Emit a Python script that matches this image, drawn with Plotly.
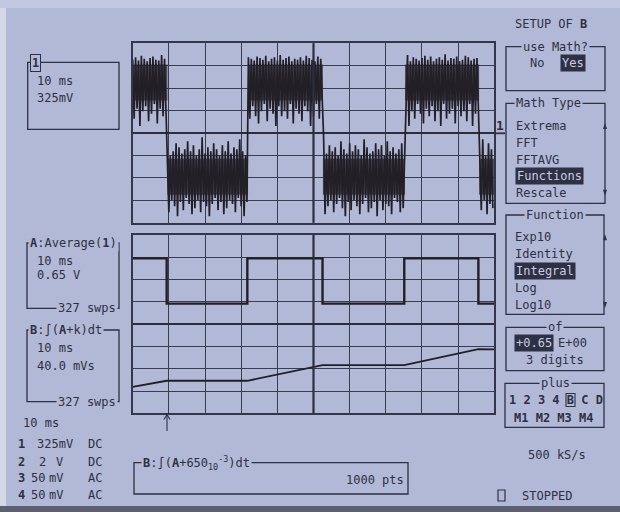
import plotly.graph_objects as go

W, H = 620, 512
BG = "#b1b9d7"
INK = "#2e3044"
TRACE = "#221f26"
LIGHT = "#c9cde2"
MONO = "DejaVu Sans Mono"

# ---------------- data (screen divisions; 10 ms/div horizontally) ----------------
# Channel 1: noisy square wave. Burst transitions (ms from left edge) and state.
ch1_edges_ms = [0, 9.6, 31.9, 52.6, 75.3, 95.8, 100]
ch1_states = ["H", "L", "H", "L", "H", "L"]
# base edges of the dense burst bands (divisions): top / bottom for high and low states
ch1_band_top = {"H": 3.2, "L": -1.0}
ch1_band_bot = {"H": 1.3, "L": -2.9}
ch1_spike_up = {"H": 0.035, "L": 0.09}
ch1_spike_dn = {"H": 0.11, "L": 0.09}
# spike excursions (0..9), upper and lower edge
ch1_up = [2, 5, 1, 7, 3, 0, 4, 6, 2, 1, 8, 3, 5, 0, 2, 6, 4, 1, 3, 7, 2, 5, 0, 3, 9,
          1, 4, 2, 6, 3, 0, 5, 2, 7, 1, 4, 3, 8, 2, 0, 5, 3, 1, 6, 4, 2, 7, 0, 3, 5,
          1, 8, 2, 4, 6, 0, 3, 2, 5, 1, 7, 4, 2, 0, 6, 3, 9, 1, 5, 2, 4, 0, 7, 3, 1,
          6, 2, 5, 3, 0, 8, 4, 1, 2, 6, 3, 5, 0, 7, 2, 4, 1, 3, 6, 2, 8, 0, 5, 3, 1,
          4, 7, 2, 6, 0, 3, 5, 2, 9, 1, 4, 3, 6, 0, 2, 7, 5, 1, 3, 4, 2, 8, 0, 6, 3]
ch1_dn = [6, 2, 9, 3, 1, 7, 4, 0, 8, 2, 5, 3, 7, 1, 4, 9, 2, 6, 0, 3, 8, 5, 1, 7, 2,
          4, 9, 3, 0, 6, 2, 8, 5, 1, 3, 7, 0, 4, 9, 2, 6, 1, 5, 8, 3, 0, 7, 2, 4, 9,
          1, 5, 3, 6, 0, 8, 2, 4, 7, 1, 3, 9, 5, 0, 6, 2, 8, 4, 1, 7, 3, 0, 5, 9, 2,
          6, 1, 4, 8, 3, 0, 7, 5, 2, 9, 1, 6, 3, 4, 8, 0, 2, 7, 5, 1, 9, 3, 6, 0, 4,
          8, 2, 5, 1, 7, 3, 9, 0, 6, 4, 2, 8, 1, 5, 3, 7, 0, 9, 4, 2, 6, 1, 8, 3, 5]

# Trace A: Average(1) – step levels (divisions) at transition times (ms)
a_t_ms = [0, 9.4, 31.7, 52.5, 75.1, 95.6, 100]
a_div = [2.95, 0.92, 2.95, 0.92, 2.95, 0.92, 0.92]

# Trace B: integral of (A + k) – breakpoints
b_t_ms = [0, 9.4, 31.7, 52.5, 75.1, 95.6, 100]
b_div = [-2.81, -2.54, -2.54, -1.84, -1.84, -1.12, -1.13]

# ---------------- build channel 1 zigzag ----------------
n = min(len(ch1_up), len(ch1_dn))
step = 100.0 / (2 * n)
ch1_t, ch1_v = [], []


def state_at(t):
    for i in range(len(ch1_states)):
        if ch1_edges_ms[i] <= t < ch1_edges_ms[i + 1]:
            return ch1_states[i]
    return ch1_states[-1]


for i in range(n):
    t_up = (2 * i) * step
    t_dn = (2 * i + 1) * step
    s1 = state_at(t_up)
    ch1_t.append(t_up)
    ch1_v.append(ch1_band_top[s1] + ch1_up[i] * ch1_spike_up[s1])
    s2 = state_at(t_dn)
    ch1_t.append(t_dn)
    ch1_v.append(ch1_band_bot[s2] - ch1_dn[i] * ch1_spike_dn[s2])


def px(x):
    return x / W


def py(y):
    return 1 - y / H


fig = go.Figure()
# dense cores of the bursts
for i, s in enumerate(ch1_states):
    t0, t1 = ch1_edges_ms[i], ch1_edges_ms[i + 1]
    fig.add_trace(go.Scatter(x=[t0, t1, t1, t0, t0],
                             y=[ch1_band_top[s] - 0.15, ch1_band_top[s] - 0.15,
                                ch1_band_bot[s] + 0.15, ch1_band_bot[s] + 0.15,
                                ch1_band_top[s] - 0.15],
                             mode="lines", fill="toself", fillcolor="rgba(34,31,38,0.7)",
                             line=dict(width=0), xaxis="x", yaxis="y", hoverinfo="skip"))
fig.add_trace(go.Scatter(x=ch1_t, y=ch1_v, mode="lines",
                         line=dict(color=TRACE, width=1.7), xaxis="x", yaxis="y",
                         hoverinfo="skip"))
fig.add_trace(go.Scatter(x=a_t_ms, y=a_div, mode="lines", line_shape="hv",
                         line=dict(color=TRACE, width=2.4), xaxis="x2", yaxis="y2",
                         hoverinfo="skip"))
fig.add_trace(go.Scatter(x=b_t_ms, y=b_div, mode="lines",
                         line=dict(color=TRACE, width=1.8), xaxis="x2", yaxis="y2",
                         hoverinfo="skip"))

GL, GR = 132.7, 494.3
ax_common = dict(range=[0, 100], dtick=10, tick0=0, showgrid=True, gridcolor="#3a3c52",
                 gridwidth=1.2, showline=True, mirror=True, linecolor="#34364a",
                 linewidth=1.6, showticklabels=False, ticks="", zeroline=False,
                 fixedrange=True)
ay_common = dict(range=[-4, 4], dtick=1, tick0=0, showgrid=True, gridcolor="#3a3c52",
                 gridwidth=1.2, showline=True, mirror=True, linecolor="#34364a",
                 linewidth=1.6, showticklabels=False, ticks="", zeroline=True,
                 zerolinecolor="#2c2e40", zerolinewidth=2.2, fixedrange=True)

fig.update_layout(
    width=W, height=H, margin=dict(l=0, r=0, t=0, b=0),
    paper_bgcolor=BG, plot_bgcolor="rgba(0,0,0,0)", showlegend=False,
    xaxis=dict(domain=[px(GL), px(GR)], anchor="y", **ax_common),
    yaxis=dict(domain=[py(222.7), py(43.3)], anchor="x", **ay_common),
    xaxis2=dict(domain=[px(GL), px(GR)], anchor="y2", **ax_common),
    yaxis2=dict(domain=[py(413.3), py(235)], anchor="x2", **ay_common),
)

shapes = []
# photo edges
shapes.append(dict(type="rect", xref="paper", yref="paper", x0=0, x1=px(6), y0=0, y1=1,
                   fillcolor="#d3d7e6", line_width=0, layer="below"))
shapes.append(dict(type="rect", xref="paper", yref="paper", x0=0, x1=1, y0=py(8), y1=1,
                   fillcolor="#c2c8e0", line_width=0, layer="below"))
shapes.append(dict(type="rect", xref="paper", yref="paper", x0=0, x1=1, y0=0, y1=py(506),
                   fillcolor="#5c5f6e", line_width=0))
# thick centre vertical lines
for yr in ["y", "y2"]:
    xr = "x" if yr == "y" else "x2"
    shapes.append(dict(type="line", xref=xr, yref=yr + " domain", x0=50, x1=50, y0=0, y1=1,
                       line=dict(color="#2c2e40", width=2.2)))
# ch1 ground marker line extending right
shapes.append(dict(type="line", xref="paper", yref="paper", x0=px(494), x1=px(505),
                   y0=py(133.3), y1=py(133.3), line=dict(color=INK, width=1.8)))


def box(x0, y0, x1, y1, w=1.3):
    shapes.append(dict(type="rect", xref="paper", yref="paper", x0=px(x0), x1=px(x1),
                       y0=py(y1), y1=py(y0), line=dict(color=INK, width=w)))


box(27.7, 62.3, 119, 129.3)
box(27, 243, 119, 308.3)
box(27, 330, 119, 401.7)
box(134, 462.7, 408, 494)
box(506, 46.7, 605, 90.7)
box(506, 103.3, 605, 203.3)
box(506, 215, 604, 314.3)
box(506, 327.3, 604, 370.7)
box(505, 383.3, 604, 427.3)
# boxed B in "plus"
box(566, 393.5, 575, 406.5, 1.1)
# STOPPED indicator square
box(498, 490, 505, 501, 1.2)

# arrow under the lower grid
shapes.append(dict(type="line", xref="paper", yref="paper", x0=px(167), x1=px(167),
                   y0=py(431), y1=py(414.5), line=dict(color=INK, width=1.1)))
shapes.append(dict(type="line", xref="paper", yref="paper", x0=px(164), x1=px(167),
                   y0=py(419.5), y1=py(414.5), line=dict(color=INK, width=1.1)))
shapes.append(dict(type="line", xref="paper", yref="paper", x0=px(170), x1=px(167),
                   y0=py(419.5), y1=py(414.5), line=dict(color=INK, width=1.1)))
# scroll arrows on the right of menu boxes
for (yt, yb) in [(126, 192.7), (237.3, 305)]:
    shapes.append(dict(type="path", xref="paper", yref="paper",
                       path=f"M {px(603)} {py(yt+3)} L {px(607)} {py(yt+3)} L {px(605)} {py(yt-3)} Z",
                       fillcolor=INK, line_width=0))
    shapes.append(dict(type="path", xref="paper", yref="paper",
                       path=f"M {px(603)} {py(yb-3)} L {px(607)} {py(yb-3)} L {px(605)} {py(yb+3)} Z",
                       fillcolor=INK, line_width=0))

fig.update_layout(shapes=shapes)

anns = []


def ann(x, y, text, anchor="left", size=12, bold=False, inv=False, bg=None, color=None,
        border=None):
    t = f"<b>{text}</b>" if bold else text
    d = dict(xref="paper", yref="paper", x=px(x), y=py(y), text=t, showarrow=False,
             xanchor=anchor, yanchor="middle",
             font=dict(family=MONO, size=size, color=color or (LIGHT if inv else INK)),
             borderpad=0)
    if inv:
        d["bgcolor"] = INK
        d["borderpad"] = 1
    elif bg:
        d["bgcolor"] = bg
        d["borderpad"] = 1
    if border:
        d["bordercolor"] = border
        d["borderwidth"] = 1
    anns.append(d)


# channel 1 label box
ann(30, 63, "1", bold=True, size=12, bg=BG, border=INK)
ann(36, 80.7, "10 ms")
ann(36, 98.3, "325mV")
# A box
ann(28, 243.3, "<b>A</b>:Average(<b>1</b>)", bg=BG)
ann(36, 260.7, "10 ms")
ann(36, 275, "0.65 V")
ann(118, 308.3, "327 swps", anchor="right", bg=BG)
# B box
ann(28, 330, "<b>B</b>:∫(<b>A</b>+k)dt", bg=BG)
ann(36, 348.3, "10 ms")
ann(36, 365.7, "40.0 mVs")
ann(118, 401.7, "327 swps", anchor="right", bg=BG)
# timebase / channels
ann(22, 422.7, "10 ms")
rows = [(444.3, "1", [(36, "325mV")], "DC"),
        (461.7, "2", [(38, "2"), (55, "V")], "DC"),
        (478, "3", [(30, "50"), (48, "mV")], "AC"),
        (495, "4", [(30, "50"), (48, "mV")], "AC")]
for (yy, num, parts, cpl) in rows:
    ann(17, yy, num, bold=True, size=12)
    for (xx, tx) in parts:
        ann(xx, yy, tx)
    ann(87, yy, cpl)
# bottom formula box
ann(141, 462.7, "<b>B</b>:∫(<b>A</b>+650<sub>10</sub><sup>-3</sup>)dt", bg=BG)
ann(405, 480, "1000 pts", anchor="right")
# right panel
ann(551, 24.3, "SETUP OF <b>B</b>", anchor="center")
ann(555, 46.7, "use Math?", anchor="center", bg=BG)
ann(529, 63.3, "No")
ann(559.5, 63.3, "Yes", inv=True)
ann(514, 103.3, "Math Type", bg=BG)
for yy, tx in [(126, "Extrema"), (142.7, "FFT"), (160, "FFTAVG"), (192.7, "Rescale")]:
    ann(515, yy, tx)
ann(515, 176.3, "Functions", inv=True)
ann(500, 125, "1", bold=True, anchor="center", size=13)
ann(555, 215, "Function", anchor="center", bg=BG)
for yy, tx in [(237.3, "Exp10"), (254, "Identity"), (288.3, "Log"), (305, "Log10")]:
    ann(514, yy, tx)
ann(514, 270.7, "Integral", inv=True)
ann(555, 327.3, "of", anchor="center", bg=BG)
ann(514, 343.3, "+0.65", inv=True)
ann(557, 343.3, "E+00")
ann(555, 360, "3 digits", anchor="center")
ann(555, 383.3, "plus", anchor="center", bg=BG)
ann(556, 400, "1 2 3 4 B C D", anchor="center", bold=True)
ann(553, 417.7, "M1 M2 M3 M4", anchor="center", bold=True)
ann(557, 455, "500 kS/s", anchor="center")
ann(521, 496, "STOPPED")

fig.update_layout(annotations=anns)
fig.write_html("out.html", config={"displayModeBar": False},
               post_script="document.body.style.margin='0';")
